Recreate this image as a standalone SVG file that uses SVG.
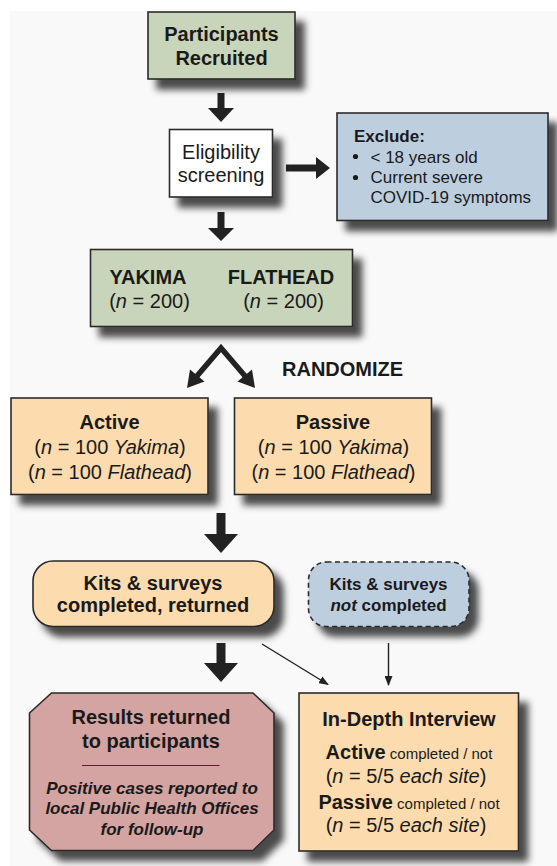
<svg xmlns="http://www.w3.org/2000/svg" width="557" height="866" viewBox="0 0 557 866">
<defs>
<filter id="sh" x="-10%" y="-10%" width="130%" height="150%">
<feDropShadow dx="9" dy="10" stdDeviation="3.5" flood-color="#000" flood-opacity="0.7"/>
</filter>
<marker id="ah" markerWidth="10" markerHeight="8" refX="9" refY="4" orient="auto" markerUnits="userSpaceOnUse">
<path d="M0,0 L10,4 L0,8 Z" fill="#222"/>
</marker>
<style>
text{font-family:"Liberation Sans",Arial,sans-serif;fill:#1a1a1a}
.b{font-weight:bold}
.i{font-style:italic}
.box{stroke:#2a2a2a;stroke-width:1.6}
.green{fill:#c9d5bb}
.peach{fill:#fcdcaf}
.blue{fill:#bdcfdf}
.rose{fill:#d3a4a1}
.white{fill:#fff}
.blk{fill:#222}
.thin{stroke:#222;stroke-width:1.4;fill:none}
</style>
</defs>
<rect x="0" y="0" width="557" height="866" fill="#fff"/>
<rect x="10" y="11" width="547" height="855" fill="#f9f9f9"/>

<g id="connectors">
<polygon class="blk" points="217.5,93 224.5,93 224.5,108 234,108 221,122 208,108 217.5,108"/>
<polygon class="blk" points="286,164.5 316,164.5 316,157 330,168 316,179 316,171.5 286,171.5"/>
<polygon class="blk" points="217.5,212 224.5,212 224.5,228 234,228 221,241 208,228 217.5,228"/>
<path d="M197,376 L221,348 L245,376" fill="none" stroke="#222" stroke-width="5.5" stroke-linejoin="miter"/>
<polygon class="blk" points="187,388 190,369.5 204.5,381.5"/>
<polygon class="blk" points="255,388 252,369.5 237.5,381.5"/>
<polygon class="blk" points="216.5,513 225.5,513 225.5,534 238,534 221,553 204,534 216.5,534"/>
<polygon class="blk" points="216.5,643 225.5,643 225.5,663 238,663 221,682 204,663 216.5,663"/>
<line class="thin" x1="262" y1="644" x2="328" y2="684.5" marker-end="url(#ah)"/>
<line class="thin" x1="388.5" y1="643" x2="388.5" y2="685" marker-end="url(#ah)"/>
</g>

<g id="recruited">
<rect class="box green" x="148" y="12" width="147" height="67" filter="url(#sh)"/>
<text class="b" x="221.5" y="41" font-size="20" text-anchor="middle">Participants</text>
<text class="b" x="221.5" y="65" font-size="20" text-anchor="middle">Recruited</text>
</g>

<g id="eligibility">
<rect class="box white" x="169.5" y="129.5" width="103" height="67.5" filter="url(#sh)"/>
<text x="221" y="159" font-size="20" text-anchor="middle">Eligibility</text>
<text x="221" y="182" font-size="20" text-anchor="middle">screening</text>
</g>

<g id="exclude">
<rect class="box blue" x="337" y="113" width="211" height="107.5" filter="url(#sh)"/>
<text class="b" x="354" y="142" font-size="17">Exclude:</text>
<circle cx="355.5" cy="156.5" r="2.6" fill="#1a1a1a"/>
<circle cx="355.5" cy="177.5" r="2.6" fill="#1a1a1a"/>
<text x="370.5" y="162.5" font-size="17">&lt; 18 years old</text>
<text x="370.5" y="183" font-size="17">Current severe</text>
<text x="370.5" y="203" font-size="17">COVID-19 symptoms</text>
</g>

<g id="sites">
<rect class="box green" x="90.5" y="249.5" width="262" height="77" filter="url(#sh)"/>
<text class="b" x="148" y="284" font-size="20" text-anchor="middle">YAKIMA</text>
<text x="149.5" y="307.5" font-size="20" text-anchor="middle">(<tspan class="i">n</tspan> = 200)</text>
<text class="b" x="281" y="284" font-size="20" text-anchor="middle">FLATHEAD</text>
<text x="283.5" y="307.5" font-size="20" text-anchor="middle">(<tspan class="i">n</tspan> = 200)</text>
</g>

<g id="randomize">
<text class="b" x="282" y="376" font-size="20">RANDOMIZE</text>
</g>

<g id="active">
<rect class="box peach" x="11" y="398" width="197" height="96.5" filter="url(#sh)"/>
<text class="b" x="109.5" y="429" font-size="20" text-anchor="middle">Active</text>
<text x="110" y="454" font-size="20" text-anchor="middle">(<tspan class="i">n</tspan> = 100 <tspan class="i">Yakima</tspan>)</text>
<text x="110" y="478.5" font-size="20" text-anchor="middle">(<tspan class="i">n</tspan> = 100 <tspan class="i">Flathead</tspan>)</text>
</g>

<g id="passive">
<rect class="box peach" x="234.5" y="398" width="197" height="96.5" filter="url(#sh)"/>
<text class="b" x="333" y="429" font-size="20" text-anchor="middle">Passive</text>
<text x="333.5" y="454" font-size="20" text-anchor="middle">(<tspan class="i">n</tspan> = 100 <tspan class="i">Yakima</tspan>)</text>
<text x="333.5" y="478.5" font-size="20" text-anchor="middle">(<tspan class="i">n</tspan> = 100 <tspan class="i">Flathead</tspan>)</text>
</g>

<g id="completed">
<rect class="box peach" x="33" y="561" width="241" height="65.5" rx="20" ry="20" filter="url(#sh)"/>
<text class="b" x="153" y="589.5" font-size="20" text-anchor="middle">Kits &amp; surveys</text>
<text class="b" x="153" y="612" font-size="20" text-anchor="middle">completed, returned</text>
</g>

<g id="notcompleted">
<rect class="box blue" x="308.5" y="562" width="160.5" height="64.5" rx="18" ry="18" stroke-dasharray="5,3.5" filter="url(#sh)"/>
<text class="b" x="388.5" y="589.5" font-size="17" text-anchor="middle">Kits &amp; surveys</text>
<text class="b" x="388.5" y="610.5" font-size="17" text-anchor="middle"><tspan class="i">not</tspan> completed</text>
</g>

<g id="results">
<polygon class="box rose" points="51.5,693 253,693 274,713 274,830 253,850.5 51.5,850.5 29.5,830 29.5,713" filter="url(#sh)"/>
<text class="b" x="151" y="724" font-size="20" text-anchor="middle">Results returned</text>
<text class="b" x="151" y="748" font-size="20" text-anchor="middle">to participants</text>
<line x1="82" y1="765.5" x2="219.5" y2="765.5" stroke="#333" stroke-width="1.2"/>
<text class="b i" x="152" y="793.5" font-size="17" text-anchor="middle">Positive cases reported to</text>
<text class="b i" x="152" y="814" font-size="17" text-anchor="middle">local Public Health Offices</text>
<text class="b i" x="152" y="834.5" font-size="17" text-anchor="middle">for follow-up</text>
</g>

<g id="interview">
<rect class="box peach" x="299" y="693" width="219.5" height="158" filter="url(#sh)"/>
<text class="b" x="409" y="726" font-size="20" text-anchor="middle">In-Depth Interview</text>
<text x="409" y="758.5" text-anchor="middle"><tspan class="b" font-size="20">Active</tspan><tspan font-size="15"> completed / not</tspan></text>
<text x="406" y="783" font-size="20" text-anchor="middle">(<tspan class="i">n</tspan> = 5/5 <tspan class="i">each site</tspan>)</text>
<text x="409" y="808.5" text-anchor="middle"><tspan class="b" font-size="20">Passive</tspan><tspan font-size="15"> completed / not</tspan></text>
<text x="406" y="832" font-size="20" text-anchor="middle">(<tspan class="i">n</tspan> = 5/5 <tspan class="i">each site</tspan>)</text>
</g>
</svg>
